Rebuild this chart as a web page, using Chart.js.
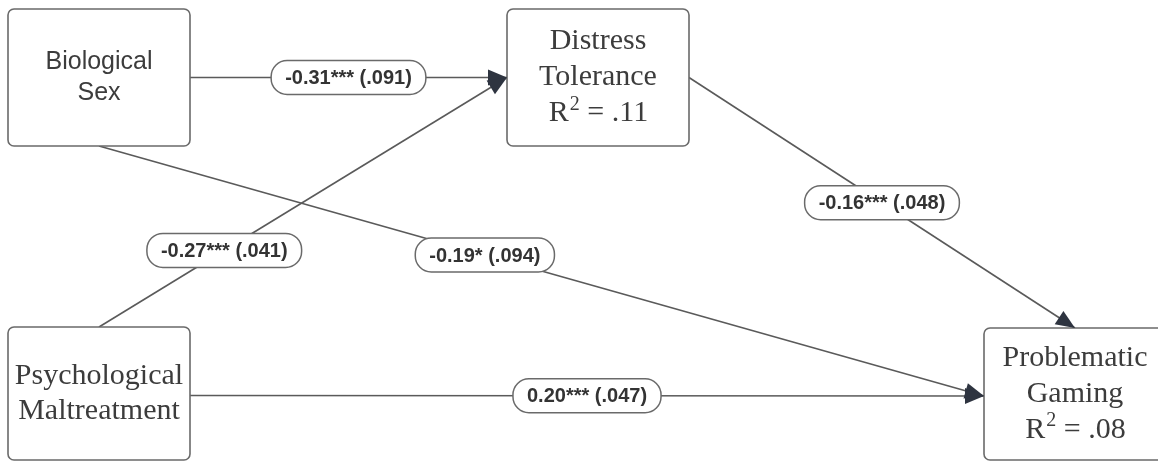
<!DOCTYPE html>
<html>
<head>
<meta charset="utf-8">
<script src="https://cdn.jsdelivr.net/npm/chart.js@4/dist/chart.umd.min.js"></script>
<style>
  html, body { margin: 0; padding: 0; background: #fff; }
  #wrap { width: 1158px; height: 461px; }
</style>
</head>
<body>
<div id="wrap"><canvas id="grafico_path"></canvas></div>
<script>
let ctx = document.getElementById('grafico_path')

// model: nodes and paths
const nodeLines = [
    ['Biological', 'Sex'],
    ['Distress', 'Tolerance'],
    ['Psychological', 'Maltreatment'],
    ['Problematic', 'Gaming']
]
const nodeR2 = [null, '.11', null, '.08']

const edgeFrom = [0, 2, 0, 2, 1]
const edgeTo = [1, 1, 3, 3, 3]
const edgeBeta = [-0.31, -0.27, -0.19, 0.20, -0.16]
const edgeStars = ['***', '***', '*', '***', '***']
const edgeSE = ['.091', '.041', '.094', '.047', '.048']

// layout (diagram units = pixels)
const boxLeft = [8, 507, 8, 984]
const boxTop = [9, 9, 327, 328]
const boxRight = [190, 689, 190, 1166]
const boxBottom = [146, 146, 460, 460]
const serifPx = 30
const nodeFont = ['25px "Liberation Sans", Arial, sans-serif', serifPx + 'px "Liberation Serif", serif',
                  serifPx + 'px "Liberation Serif", serif', serifPx + 'px "Liberation Serif", serif']
const nodeLineGap = [31, 36, 35, 36]
const edgeFromSide = ['right', 'top', 'bottom', 'right', 'right']
const edgeToSide = ['left', 'left', 'left', 'left', 'top']
const edgeToYOffset = [0, 0, 2, 2, 0]
const edgeFromYOffset = [0, 0, 0, 2, 0]
const labelAt = [0.5, 0.307, 0.436, 0.5, 0.5]

function anchor(i, side, dy) {
    const cx = (boxLeft[i] + boxRight[i]) / 2
    const cy = (boxTop[i] + boxBottom[i]) / 2 + dy
    if (side === 'right') return {x: boxRight[i], y: cy}
    if (side === 'left') return {x: boxLeft[i], y: cy}
    if (side === 'top') return {x: cx, y: boxTop[i]}
    return {x: cx, y: boxBottom[i]}
}

function fmtBeta(v) { return v.toFixed(2) }

const edgeLabels = edgeBeta.map((b, i) => fmtBeta(b) + edgeStars[i] + ' (' + edgeSE[i] + ')')

const datasets = edgeFrom.map((f, i) => ({
    label: edgeLabels[i],
    data: [anchor(f, edgeFromSide[i], edgeFromYOffset[i]), anchor(edgeTo[i], edgeToSide[i], edgeToYOffset[i])],
    showLine: true,
    borderColor: '#5a5a5a',
    borderWidth: 1.6,
    pointRadius: 0,
    fill: false
}))

function roundRect(c, x, y, w, h, r) {
    c.beginPath()
    c.moveTo(x + r, y)
    c.lineTo(x + w - r, y)
    c.arcTo(x + w, y, x + w, y + r, r)
    c.lineTo(x + w, y + h - r)
    c.arcTo(x + w, y + h, x + w - r, y + h, r)
    c.lineTo(x + r, y + h)
    c.arcTo(x, y + h, x, y + h - r, r)
    c.lineTo(x, y + r)
    c.arcTo(x, y, x + r, y, r)
    c.closePath()
}

// R² line with a proper superscript
function drawR2(c, value, cx, cy) {
    const big = serifPx + 'px "Liberation Serif", serif'
    const small = Math.round(serifPx * 0.68) + 'px "Liberation Serif", serif'
    c.font = big
    const wR = c.measureText('R').width
    const rest = ' = ' + value
    const wRest = c.measureText(rest).width
    c.font = small
    const w2 = c.measureText('2').width
    const total = wR + w2 + wRest
    let x = cx - total / 2
    c.textAlign = 'left'
    c.font = big
    c.fillText('R', x, cy)
    x += wR
    c.font = small
    c.fillText('2', x + 1, cy - 9)
    x += w2 + 1
    c.font = big
    c.fillText(rest, x, cy)
    c.textAlign = 'center'
}

const diagramPlugin = {
    id: 'diagram',
    afterDatasetsDraw(chart) {
        const c = chart.ctx
        const sx = chart.scales.x, sy = chart.scales.y
        const px = v => sx.getPixelForValue(v)
        const py = v => sy.getPixelForValue(v)

        // boxes
        for (let i = 0; i < nodeLines.length; i++) {
            const x0 = px(boxLeft[i]), y0 = py(boxTop[i])
            const w = px(boxRight[i]) - x0, h = py(boxBottom[i]) - y0
            c.save()
            roundRect(c, x0, y0, w, h, 6)
            c.fillStyle = '#fff'
            c.fill()
            c.lineWidth = 1.6
            c.strokeStyle = '#6a6a6a'
            c.stroke()
            const lines = nodeLines[i].slice()
            const n = lines.length + (nodeR2[i] ? 1 : 0)
            c.font = nodeFont[i]
            c.fillStyle = '#3c3c3c'
            c.textAlign = 'center'
            c.textBaseline = 'middle'
            const cx = x0 + w / 2, cy = y0 + h / 2
            const gap = nodeLineGap[i]
            lines.forEach((t, k) => {
                c.fillText(t, cx, cy + (k - (n - 1) / 2) * gap)
            })
            if (nodeR2[i]) drawR2(c, nodeR2[i], cx, cy + (n - 1 - (n - 1) / 2) * gap)
            c.restore()
        }

        // arrowheads and labels
        chart.data.datasets.forEach((ds, i) => {
            const a = ds.data[0], b = ds.data[1]
            const ax = px(a.x), ay = py(a.y), bx = px(b.x), by = py(b.y)
            const ang = Math.atan2(by - ay, bx - ax)
            const len = 19, hw = 8
            c.save()
            c.translate(bx, by)
            c.rotate(ang)
            c.beginPath()
            c.moveTo(0, 0)
            c.lineTo(-len, -hw)
            c.lineTo(-len, hw)
            c.closePath()
            c.fillStyle = '#2e3440'
            c.fill()
            c.restore()

            const t = labelAt[i]
            const lx = ax + (bx - ax) * t, ly = ay + (by - ay) * t
            c.save()
            c.font = 'bold 20px "Liberation Sans", Arial, sans-serif'
            const tw = c.measureText(ds.label).width
            const pw = tw + 28, ph = 34
            roundRect(c, lx - pw / 2, ly - ph / 2, pw, ph, 16)
            c.fillStyle = '#fff'
            c.fill()
            c.lineWidth = 1.5
            c.strokeStyle = '#6a6a6a'
            c.stroke()
            c.fillStyle = '#333'
            c.textAlign = 'center'
            c.textBaseline = 'middle'
            c.fillText(ds.label, lx, ly + 1)
            c.restore()
        })
    }
}

const config = {
    type: 'scatter',
    data: { datasets },
    options: {
        responsive: true,
        maintainAspectRatio: false,
        animation: false,
        layout: { padding: 0 },
        plugins: { legend: { display: false }, tooltip: { enabled: false } },
        scales: {
            x: { type: 'linear', min: 0, max: 1158, display: false },
            y: { type: 'linear', min: 0, max: 461, reverse: true, display: false }
        }
    },
    plugins: [diagramPlugin]
}

const graph = new Chart(ctx, config)
</script>
</body>
</html>
